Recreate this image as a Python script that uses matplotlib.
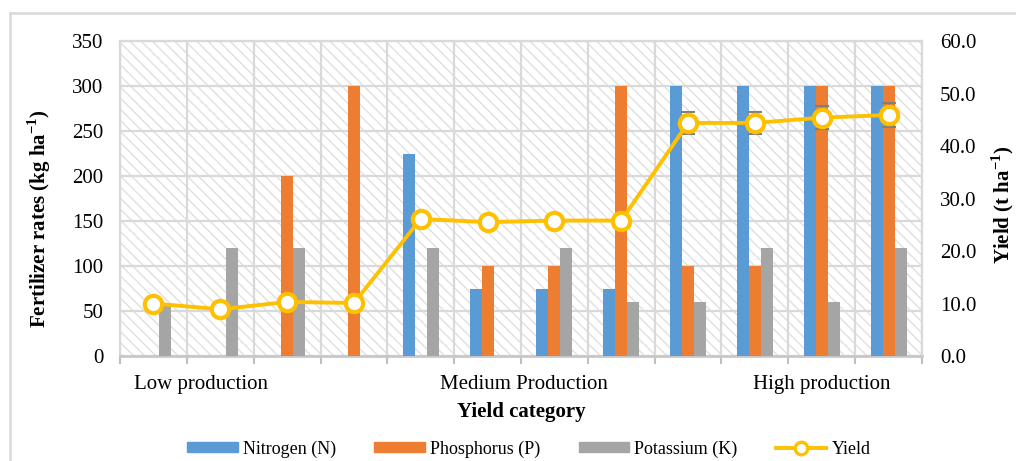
import numpy as np
import matplotlib
matplotlib.use("Agg")
import matplotlib.pyplot as plt
from matplotlib.patches import Rectangle
from matplotlib.lines import Line2D

plt.rcParams['font.family'] = ['Liberation Serif', 'DejaVu Serif']
plt.rcParams['mathtext.fontset'] = 'custom'
plt.rcParams['mathtext.rm'] = 'Liberation Serif'
plt.rcParams['mathtext.bf'] = 'Liberation Serif:bold'
plt.rcParams['hatch.linewidth'] = 1.0

# ---- data ----
nitrogen = [0, 0, 0, 0, 225, 75, 75, 75, 300, 300, 300, 300]
phosphorus = [0, 0, 200, 300, 0, 100, 100, 300, 100, 100, 300, 300]
potassium = [58, 120, 120, 0, 120, 0, 120, 60, 60, 120, 60, 120]
yield_t = [10.0, 8.9, 10.3, 10.1, 26.1, 25.5, 25.8, 25.8, 44.4, 44.4, 45.4, 45.9]
yield_err = [0, 0, 0, 0, 0, 0, 0, 0, 2.1, 2.1, 2.2, 2.2]
group_labels = ["Low production", "Medium Production", "High production"]
group_label_pos = [0.71, 5.55, 10.0]
left_ticks = [0, 50, 100, 150, 200, 250, 300, 350]
right_ticks = [0, 10, 20, 30, 40, 50, 60]

c_n, c_p, c_k, c_y = '#5b9bd5', '#ed7d31', '#a5a5a5', '#ffc000'
grid_c = '#d9d9d9'

W, H = 1016, 461
fig = plt.figure(figsize=(W / 100, H / 100), dpi=100)
ax = fig.add_axes([120 / W, 1 - 356 / H, (922 - 120) / W, (356 - 41) / H])

n = len(nitrogen)
x = np.arange(n)
bw = 0.18

# hatched background
ax.add_patch(Rectangle((0, 0), 1, 1, transform=ax.transAxes, facecolor='white',
                       edgecolor='#e0e0e0', hatch='\\\\\\', linewidth=0, zorder=0))

ax.bar(x - bw, nitrogen, bw, color=c_n, zorder=3, label='Nitrogen (N)')
ax.bar(x, phosphorus, bw, color=c_p, zorder=3, label='Phosphorus (P)')
ax.bar(x + bw, potassium, bw, color=c_k, zorder=3, label='Potassium (K)')

ax.set_xlim(-0.5, n - 0.5)
ax.set_ylim(0, 350)
ax.set_yticks(left_ticks)
ax.set_xticks(group_label_pos)
ax.set_xticklabels(group_labels, fontsize=15)
ax.set_xticks(np.arange(-0.5, n, 1), minor=True)
ax.tick_params(axis='x', which='major', length=0, pad=14)
ax.tick_params(axis='x', which='minor', length=6, width=1.5, color='#bfbfbf')
ax.tick_params(axis='y', length=0, labelsize=15, pad=12)
ax.grid(axis='y', color=grid_c, linewidth=1.6, zorder=1)
ax.grid(axis='x', which='minor', color=grid_c, linewidth=1.6, zorder=1)
ax.set_axisbelow(True)
for s in ax.spines.values():
    s.set_color(grid_c)
    s.set_linewidth(1.6)
ax.spines['bottom'].set_color('#c8c8c8')
ax.spines['bottom'].set_linewidth(2)

ax2 = ax.twinx()
ax2.set_ylim(0, 60)
ax2.set_yticks(right_ticks)
ax2.set_yticklabels([f"{v:.1f}" for v in right_ticks])
ax2.tick_params(axis='y', length=0, labelsize=15, pad=13)
for s in ax2.spines.values():
    s.set_visible(False)

idx = [i for i in range(n) if yield_err[i] > 0]
ax2.errorbar([x[i] for i in idx], [yield_t[i] for i in idx], yerr=[yield_err[i] for i in idx],
             fmt='none', ecolor='#7f7f7f', elinewidth=1.2, capsize=5, capthick=1.5, zorder=4)
ax2.plot(x, yield_t, color=c_y, linewidth=2.8, marker='o', markersize=12.5,
         markerfacecolor='white', markeredgecolor=c_y, markeredgewidth=3, zorder=5, label='Yield')

fig.text(39 / W, 1 - 219 / H, r'Fertilizer rates (kg ha$^{\mathregular{-1}}$)', rotation=90,
         ha='center', va='center', fontsize=15, fontweight='bold')
fig.text(1003 / W, 1 - 205 / H, r'Yield (t ha$^{\mathregular{-1}}$)', rotation=90,
         ha='center', va='center', fontsize=15, fontweight='bold')
fig.text(521 / W, 1 - 412 / H, 'Yield category', ha='center', va='center',
         fontsize=15, fontweight='bold')

handles = [Rectangle((0, 0), 1, 1, color=c_n), Rectangle((0, 0), 1, 1, color=c_p),
           Rectangle((0, 0), 1, 1, color=c_k),
           Line2D([], [], color=c_y, linewidth=2.8, marker='o', markersize=9,
                  markerfacecolor='white', markeredgecolor=c_y, markeredgewidth=2.4)]
leg = fig.legend(handles, ['Nitrogen (N)', 'Phosphorus (P)', 'Potassium (K)', 'Yield'],
                 loc='center', bbox_to_anchor=(529 / W, 1 - 449 / H), ncol=4, frameon=False,
                 fontsize=13, handlelength=2.8, handleheight=0.5, columnspacing=2.1,
                 handletextpad=0.3)

# chart outer border
fig.add_artist(Line2D([10 / W, 1.0], [1 - 13 / H, 1 - 13 / H], transform=fig.transFigure,
                      color=grid_c, linewidth=1.8))
fig.add_artist(Line2D([10 / W, 10 / W], [0, 1 - 13 / H], transform=fig.transFigure,
                      color=grid_c, linewidth=1.8))

fig.savefig('out.png', dpi=100)
